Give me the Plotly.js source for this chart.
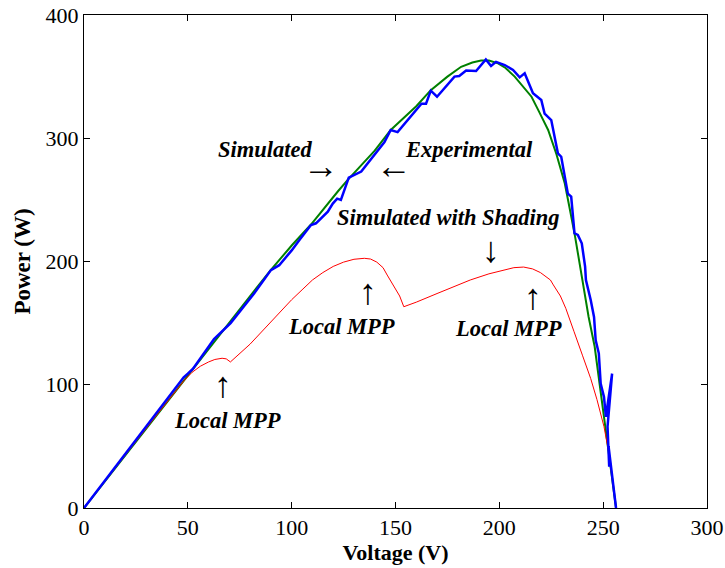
<!DOCTYPE html>
<html>
<head>
<meta charset="utf-8">
<script src="https://cdn.plot.ly/plotly-2.35.2.min.js"></script>
<style>html,body{margin:0;padding:0;background:#fff;}#chart{width:725px;height:568px;}</style>
</head>
<body>
<div id="chart"></div>
<script>
// Simulated (green)
const simV = [0,10,20,30,40,50,60,64.3,70,80,89.9,100,109.3,115,122.3,126.9,135,140,147.7,155,160,167,175,181.6,187,191.2,195,199.4,203,207.4,211,215.5,219,223.5,227.5,231.5,234,236.5,239.5,241,243,245.9,248,250.7,253.8,256.2];
const simP = [0,21.6,43.2,64.8,86.4,108,129.5,139,151,172,193,213,230,242,257,266,281,290,306.7,318,326,339,350,358,361.5,363,363,360.8,357,350,343,333.7,322,306.7,287,263.5,242,220,190,175,155,131,105,71.4,33.5,0];

// Experimental (blue)
const expV = [0,10,20,30,40,48,50,52.5,62.6,70.6,81.9,90,94,100,104,109.3,111.7,117.4,119.8,121.9,123.7,126.9,127.5,133.5,144.7,147.7,151,162.5,164.7,167,170,178.4,180.7,184,188.8,193.5,196,198.4,202.6,206.6,209.8,212.2,216.2,220.2,221.8,225,228.2,229.8,233,234.6,236.2,237.8,239.7,241.3,241.7,244,245.6,246.4,247.9,248.8,250.4,251.3,254.3,252.1,252.9,252.6,256.2];
const expP = [0,22,44,66,88,106,109,113,137,150,174,193,197,209,218,229.6,231,240.4,247,251,250,266,268,273,297,306.7,305,328,328,338.6,333.7,350,350.5,355,354.6,364,358.6,362,359.4,355.4,349.4,352.7,336.5,331,320,314.8,287.8,285,255,252.6,222.9,221.5,214.8,195.8,185,168.8,155,136,125.5,101,90,74,109,66,33.5,50,0];

// Simulated with shading (red)
const shdV = [0,10,19,25,32,40,48,52,56,60,63,66.5,68.5,70.5,75,80,85,90,95,100,105,110,115,120,125,130,135,138,141,144,146,148,150,152,154,160,170,180,186,195,202,207,211.7,216,219.8,222,224.6,226,229.4,232,234,236,240,244,247,250.4,252.8,254.5,256.2];
const shdP = [0,22,41.6,54,69,86,103,110,115,118.5,120.5,121.5,121,118.5,125,133,142,151,160,169,177,185,191,196,199.5,201.8,202.6,202,199.5,195,189,183,178,172,163.3,167,174,181,185,190,193,195,195.5,194,191,188,185,181,172,162,153,143,124,105,88,66,44,22,0];

// Tick labels
const xTicks = [0,50,100,150,200,250,300];
const yTicks = [0,100,200,300,400];

const traces = [
  {x: simV, y: simP, type:'scatter', mode:'lines', line:{color:'#008000', width:2}, hoverinfo:'skip'},
  {x: shdV, y: shdP, type:'scatter', mode:'lines', line:{color:'#ff0000', width:1}, hoverinfo:'skip'},
  {x: expV, y: expP, type:'scatter', mode:'lines', line:{color:'#0000ff', width:2.5}, hoverinfo:'skip'}
];

const FAM = 'Liberation Serif';
const annFont = {family: FAM, size: 22.5, color:'#000'};
function txt(x, y, t, extra) {
  return Object.assign({x:x, y:y, xref:'x', yref:'y', text:t, showarrow:false, font:annFont, xanchor:'center', yanchor:'middle'}, extra||{});
}
const arrowFont = {family: FAM, size: 36, color:'#000'};
const annotations = [
  txt(87.5, 290.5, '<b><i>Simulated</i></b>'),
  txt(114, 277.5, '→', {font: arrowFont}),
  txt(185.5, 290.5, '<b><i>Experimental</i></b>'),
  txt(149.3, 277.5, '←', {font: arrowFont}),
  txt(175.3, 235.3, '<b><i>Simulated with Shading</i></b>'),
  txt(196, 209.3, '↓', {font: arrowFont}),
  txt(136.8, 175.5, '↑', {font: arrowFont}),
  txt(124.2, 146.9, '<b><i>Local MPP</i></b>'),
  txt(216.3, 171.5, '↑', {font: arrowFont}),
  txt(204.3, 146, '<b><i>Local MPP</i></b>'),
  txt(66.8, 100, '↑', {font: arrowFont}),
  txt(69.2, 71.4, '<b><i>Local MPP</i></b>')
];

const layout = {
  width: 725, height: 568,
  margin: {l:84, r:18, t:15, b:60},
  paper_bgcolor:'#fff', plot_bgcolor:'#fff',
  showlegend: false,
  xaxis: {
    range:[0,300], tickvals: xTicks, ticktext: xTicks.map(String),
    ticks:'inside', ticklen:6, tickwidth:1, tickcolor:'#000',
    showline:true, linecolor:'#000', linewidth:1, mirror:'ticks',
    showgrid:false, zeroline:false,
    tickfont:{family: FAM, size:22, color:'#000'},
    title:{text:'<b>Voltage (V)</b>', font:{family: FAM, size:22, color:'#000'}, standoff:4}
  },
  yaxis: {
    range:[0,400], tickvals: yTicks, ticktext: yTicks.map(String),
    ticks:'inside', ticklen:6, tickwidth:1, tickcolor:'#000',
    showline:true, linecolor:'#000', linewidth:1, mirror:'ticks',
    showgrid:false, zeroline:false,
    tickfont:{family: FAM, size:22, color:'#000'},
    title:{text:'<b>Power (W)</b>', font:{family: FAM, size:23, color:'#000'}, standoff:8}
  },
  annotations: annotations
};

Plotly.newPlot('chart', traces, layout, {displayModeBar:false});
</script>
</body>
</html>
